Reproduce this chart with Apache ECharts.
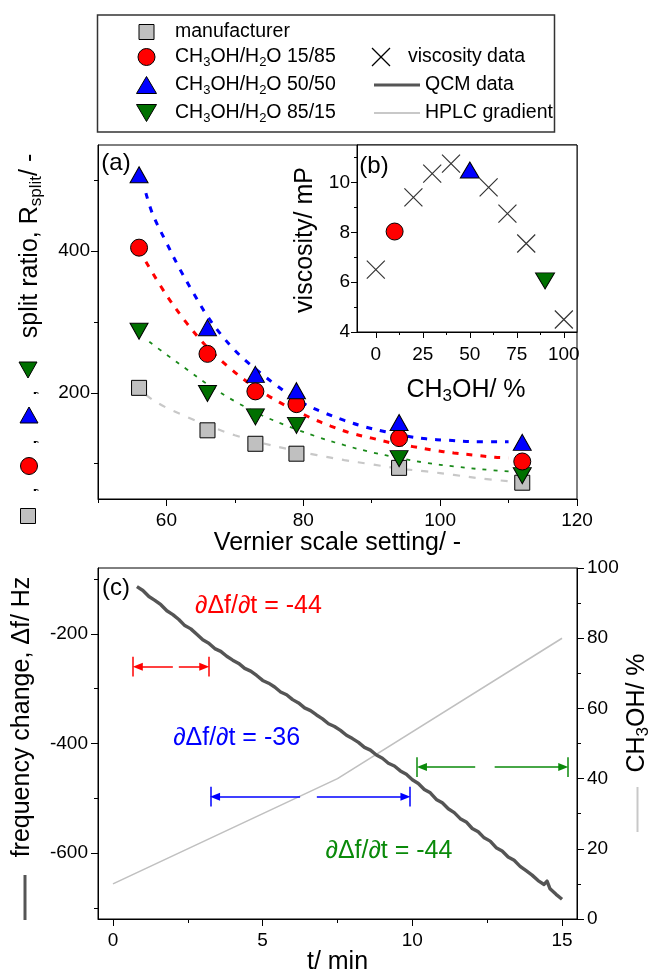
<!DOCTYPE html>
<html>
<head>
<meta charset="utf-8">
<script src="https://cdn.jsdelivr.net/npm/echarts@6.0.0/dist/echarts.min.js"></script>
<style>
html,body{margin:0;padding:0;background:#fff;}
#chart{width:651px;height:974px;}
</style>
</head>
<body>
<div id="chart"></div>
<script>
// ---------------- data ----------------
const vernier = [56, 66, 73, 79, 94, 112];
const splitManufacturer = [207, 147, 128, 114, 94, 73];
const split15 = [405, 255, 202, 184, 136, 103];
const split50 = [508, 292, 226, 203, 158, 130];
const split85 = [287, 199, 166, 154, 107, 83];

const fit50 = [[57,482],[58,452],[60,412],[62,374],[64,340],[66,308],[68,282],[70,260],[72,242],[74,226],[76,211],[78,197],[80,185],[83,172],[86,161],[89,152],[92,145],[95,139],[98,135],[101,133],[105,131],[110,131]];
const fit15 = [[57,385],[60,338],[63,298],[66,264],[69,237],[72,214],[75,195],[78,179],[81,165],[84,153],[87,143],[90,136],[93,129],[96,124],[99,119],[102,115],[105,112],[108,109],[110,108]];
const fit85 = [[57.5,272],[60,254],[63,233],[66,212],[70,188],[74,168],[78,152],[82,138],[86,126],[90,116],[94,108],[98,101],[102,96],[106,92],[110,89]];
const fitManufacturer = [[57,197],[58,190],[60,179],[63,166],[66,154],[70,140],[74,129],[78,120],[82,112],[86,105],[90,99],[94,93],[98,89],[102,84],[106,79],[110,75]];

const methanolPct = [0, 20, 30, 40, 60, 70, 80, 100];
const viscosity = [6.5, 9.4, 10.35, 10.75, 9.8, 8.75, 7.55, 4.5];
const mix15 = [10, 8.03];
const mix50 = [50, 10.5];
const mix85 = [90, 6.05];

const qcmTime = [0.8,1.0,1.2,1.4,1.6,1.8,2.0,2.2,2.4,2.6,2.8,3.0,3.2,3.4,3.6,3.8,4.0,4.2,4.4,4.6,4.8,5.0,5.2,5.4,5.6,5.8,6.0,6.2,6.4,6.6,6.8,7.0,7.2,7.4,7.6,7.8,8.0,8.2,8.4,8.6,8.8,9.0,9.2,9.4,9.6,9.8,10.0,10.2,10.4,10.6,10.8,11.0,11.2,11.4,11.6,11.8,12.0,12.2,12.4,12.6,12.8,13.0,13.2,13.4,13.6,13.8,14.0,14.2,14.4,14.5,14.6,14.8,15.0];
const qcmFreq = [-114,-121,-132,-139,-147,-158,-165,-174,-185,-191,-201,-211,-217,-227,-232,-241,-248,-254,-263,-268,-276,-285,-290,-297,-306,-311,-320,-326,-335,-340,-348,-355,-364,-369,-376,-385,-391,-398,-407,-412,-421,-427,-436,-441,-450,-456,-466,-473,-484,-490,-502,-508,-519,-526,-537,-543,-555,-561,-572,-578,-590,-596,-607,-613,-624,-632,-640,-650,-657,-651,-665,-675,-684];
const gradTime = [0, 7.5, 15];
const gradMeOH = [10, 40, 80];

const slopeTexts = ['∂Δf/∂t = -44', '∂Δf/∂t = -36', '∂Δf/∂t = -44'];
const slopeAt = [[4.86, -150], [4.13, -390], [9.22, -596]];
const spanStart = [0.67, 3.25, 10.16];
const spanEnd = [3.21, 9.93, 15.2];
const spanLevel = [-260, -497, -443];
const spanGapFrom = [2.0, 6.25, 12.1];
const spanGapTo = [2.2, 6.81, 12.75];

const vernierTicks = [60, 80, 100, 120], vernierMinor = [50, 70, 90, 110];
const splitTicks = [200, 400], splitMinor = [100, 300, 500];
const pctTicks = [0, 25, 50, 75, 100], pctMinor = [12.5, 37.5, 62.5, 87.5];
const viscTicks = [4, 6, 8, 10], viscMinor = [5, 7, 9, 11];
const timeTicks = [0, 5, 10, 15], timeMinor = [2.5, 7.5, 12.5];
const freqTicks = [-200, -400, -600], freqMinor = [-100, -300, -500, -700];
const gradTicks = [0, 20, 40, 60, 80, 100], gradMinor = [10, 30, 50, 70, 90];

// ---------------- styling ----------------
const FONT = '"Liberation Sans", Arial, Helvetica, sans-serif';
const RED = '#ff0000', BLUE = '#0000ff', GREEN = '#007000', GREY = '#c0c0c0';
const ANN_GREEN = '#0a8a0a';

function mkAxis(o) {
  return {
    type: 'value', gridIndex: o.grid, min: o.min, max: o.max, position: o.pos,
    axisLine: { show: o.line !== false, onZero: false, lineStyle: { color: '#000', width: 1 } },
    axisTick: { show: true, inside: false, length: o.len, customValues: o.ticks, lineStyle: { color: '#000', width: 1 } },
    axisLabel: o.labels ? { show: true, customValues: o.labels, color: '#000', fontSize: 19, fontFamily: FONT, margin: o.margin } : { show: false },
    splitLine: { show: false }, minorTick: { show: false }, splitArea: { show: false }
  };
}

const xAxes = [
  mkAxis({ grid: 0, min: 50, max: 120, pos: 'bottom', len: 7, ticks: vernierTicks, labels: vernierTicks, margin: 12 }),
  mkAxis({ grid: 0, min: 50, max: 120, pos: 'bottom', len: 4, ticks: vernierMinor, line: false }),
  mkAxis({ grid: 1, min: -10, max: 107, pos: 'bottom', len: 6, ticks: pctTicks, labels: pctTicks, margin: 13 }),
  mkAxis({ grid: 1, min: -10, max: 107, pos: 'bottom', len: 3, ticks: pctMinor, line: false }),
  mkAxis({ grid: 2, min: -0.5, max: 15.5, pos: 'bottom', len: 7, ticks: timeTicks, labels: timeTicks, margin: 12 }),
  mkAxis({ grid: 2, min: -0.5, max: 15.5, pos: 'bottom', len: 4, ticks: timeMinor, line: false })
];
const yAxes = [
  mkAxis({ grid: 0, min: 50, max: 550, pos: 'left', len: 7, ticks: splitTicks, labels: splitTicks, margin: 8 }),
  mkAxis({ grid: 0, min: 50, max: 550, pos: 'left', len: 4, ticks: splitMinor, line: false }),
  mkAxis({ grid: 1, min: 4, max: 11.5, pos: 'left', len: 6, ticks: viscTicks, labels: viscTicks, margin: 7 }),
  mkAxis({ grid: 1, min: 4, max: 11.5, pos: 'left', len: 3, ticks: viscMinor, line: false }),
  mkAxis({ grid: 2, min: -720, max: -80, pos: 'left', len: 7, ticks: freqTicks, labels: freqTicks, margin: 10 }),
  mkAxis({ grid: 2, min: -720, max: -80, pos: 'left', len: 4, ticks: freqMinor, line: false }),
  mkAxis({ grid: 2, min: 0, max: 100, pos: 'right', len: 7, ticks: gradTicks, labels: gradTicks, margin: 10 }),
  mkAxis({ grid: 2, min: 0, max: 100, pos: 'right', len: 4, ticks: gradMinor, line: false })
];

function pairs(xs, ys) { return xs.map((x, i) => [x, ys[i]]); }

function fitSeries(data, color, width, dash) {
  return { type: 'line', xAxisIndex: 0, yAxisIndex: 0, data: data, smooth: 0.35, showSymbol: false, silent: true, z: 2,
    lineStyle: { color: color, width: width, type: dash, cap: 'butt' } };
}
function markSeries(xi, yi, data, symbol, size, color, rotate) {
  return { type: 'scatter', xAxisIndex: xi, yAxisIndex: yi, data: data, symbol: symbol, symbolSize: size, symbolRotate: rotate || 0, z: 4,
    itemStyle: { color: color, borderColor: '#000', borderWidth: 1, opacity: 1 } };
}

// annotation arrows
const annColors = [RED, BLUE, ANN_GREEN];
const markLines = [];
spanStart.forEach((s, i) => {
  const e = spanEnd[i], y = spanLevel[i], c = annColors[i];
  const ls = { color: c, width: 1.5, type: 'solid' };
  markLines.push([{ coord: [spanGapFrom[i], y], symbol: 'none', lineStyle: ls }, { coord: [s + 0.16, y], symbol: 'triangle' }]);
  markLines.push([{ coord: [spanGapTo[i], y], symbol: 'none', lineStyle: ls }, { coord: [e - 0.16, y], symbol: 'triangle' }]);
  markLines.push([{ coord: [s, y - 18], symbol: 'none', lineStyle: ls }, { coord: [s, y + 18], symbol: 'none' }]);
  markLines.push([{ coord: [e, y - 18], symbol: 'none', lineStyle: ls }, { coord: [e, y + 18], symbol: 'none' }]);
});
const markPoints = slopeTexts.map((t, i) => ({
  coord: slopeAt[i], label: { formatter: t, color: annColors[i] }
}));

const series = [
  fitSeries(fitManufacturer, '#c8c8c8', 2.2, [7, 9]),
  fitSeries(fit85, '#1a8a1a', 1.8, [4, 7]),
  fitSeries(fit15, RED, 3, [6, 8]),
  fitSeries(fit50, BLUE, 3, [6, 8]),
  markSeries(0, 0, pairs(vernier, splitManufacturer), 'rect', 15, GREY),
  markSeries(0, 0, pairs(vernier, split85), 'triangle', [18, 16], GREEN, 180),
  markSeries(0, 0, pairs(vernier, split15), 'circle', 17, RED),
  markSeries(0, 0, pairs(vernier, split50), 'triangle', [18, 16], BLUE),
  // inset
  { type: 'scatter', xAxisIndex: 2, yAxisIndex: 2, data: pairs(methanolPct, viscosity), symbol: 'path://M0,0L10,10M10,0L0,10', symbolSize: 18, z: 4,
    itemStyle: { color: 'none', borderColor: '#000', borderWidth: 1.2 } },
  markSeries(2, 2, [mix15], 'circle', 17, RED),
  markSeries(2, 2, [mix50], 'triangle', [19, 16], BLUE),
  markSeries(2, 2, [mix85], 'triangle', [19, 16], GREEN, 180),
  // panel c
  { type: 'line', xAxisIndex: 4, yAxisIndex: 6, data: pairs(gradTime, gradMeOH), showSymbol: false, silent: true, z: 2,
    lineStyle: { color: '#c0c0c0', width: 1.6 } },
  { type: 'line', xAxisIndex: 4, yAxisIndex: 4, data: pairs(qcmTime, qcmFreq), showSymbol: false, silent: true, z: 3,
    lineStyle: { color: '#555555', width: 3.4, join: 'round' },
    markLine: { silent: true, animation: false, symbolSize: [8, 10], label: { show: false }, data: markLines },
    markPoint: { silent: true, animation: false, symbol: 'circle', symbolSize: 1, itemStyle: { color: 'rgba(0,0,0,0)' },
      label: { show: true, position: 'inside', fontSize: 25, fontFamily: FONT }, data: markPoints } }
];

// ---------------- graphic: legend, titles, panel tags ----------------
const G = [];
function txt(x, y, text, size, extra) {
  const e = { type: 'text', x: x, y: y, z: 100, silent: true,
    style: { text: text, fontSize: size, fontFamily: FONT, fill: '#000', align: 'center', verticalAlign: 'middle',
      textAlign: 'center', textVerticalAlign: 'middle', lineHeight: size + 4,
      rich: { s: { fontSize: Math.round(size * 0.66), fontFamily: FONT, lineHeight: Math.round(size * 0.6), verticalAlign: 'bottom', fill: '#000' } } } };
  if (extra) {
    if (extra.rotation) e.rotation = extra.rotation;
    if (extra.align) { e.style.align = extra.align; e.style.textAlign = extra.align; }
  }
  G.push(e);
}
function tri(cx, cy, w, h, down, fill) {
  const pts = down ? [[cx - w / 2, cy - h / 2], [cx + w / 2, cy - h / 2], [cx, cy + h / 2]]
                   : [[cx - w / 2, cy + h / 2], [cx + w / 2, cy + h / 2], [cx, cy - h / 2]];
  G.push({ type: 'polygon', z: 100, silent: true, shape: { points: pts }, style: { fill: fill, stroke: '#000', lineWidth: 1 } });
}
function circ(cx, cy, r, fill) { G.push({ type: 'circle', z: 100, silent: true, shape: { cx: cx, cy: cy, r: r }, style: { fill: fill, stroke: '#000', lineWidth: 1 } }); }
function sq(cx, cy, s, fill) { G.push({ type: 'rect', z: 100, silent: true, shape: { x: cx - s / 2, y: cy - s / 2, width: s, height: s }, style: { fill: fill, stroke: '#000', lineWidth: 1 } }); }
function seg(x1, y1, x2, y2, color, w) { G.push({ type: 'line', z: 100, silent: true, shape: { x1: x1, y1: y1, x2: x2, y2: y2 }, style: { stroke: color, lineWidth: w } }); }

// legend box
G.push({ type: 'rect', z: 99, silent: true, shape: { x: 97.5, y: 15, width: 457, height: 117 }, style: { fill: '#fff', stroke: '#333', lineWidth: 1.5 } });
const LX = 146.5, LT = 175, rows = [32, 57, 85, 113];
sq(LX, rows[0], 15, GREY);
circ(LX, rows[1], 8.5, RED);
tri(LX, rows[2], 20, 17, false, BLUE);
tri(LX, rows[3], 20, 17, true, GREEN);
txt(LT, rows[0], 'manufacturer', 19.5, { align: 'left' });
txt(LT, rows[1], 'CH{s|3}OH/H{s|2}O 15/85', 19.5, { align: 'left' });
txt(LT, rows[2], 'CH{s|3}OH/H{s|2}O 50/50', 19.5, { align: 'left' });
txt(LT, rows[3], 'CH{s|3}OH/H{s|2}O 85/15', 19.5, { align: 'left' });
seg(372, rows[1] - 9, 390, rows[1] + 9, '#000', 1.2);
seg(372, rows[1] + 9, 390, rows[1] - 9, '#000', 1.2);
txt(408, rows[1], 'viscosity data', 19.5, { align: 'left' });
seg(374, rows[2], 420, rows[2], '#555555', 3);
txt(425, rows[2], 'QCM data', 19.5, { align: 'left' });
seg(374, rows[3], 420, rows[3], '#c8c8c8', 2);
txt(425, rows[3], 'HPLC gradient', 19.5, { align: 'left' });

// panel tags
txt(116, 163, '(a)', 24);
txt(374, 166, '(b)', 24);
txt(116, 588, '(c)', 24);

// axis titles
txt(337.5, 543, 'Vernier scale setting/ -', 25);
txt(466, 390, 'CH{s|3}OH/ %', 25);
txt(305, 240, 'viscosity/ mP', 25, { rotation: Math.PI / 2 });
txt(30, 246, 'split ratio, R{s|split}/ -', 25, { rotation: Math.PI / 2 });
tri(28, 370, 18, 16, true, GREEN);
tri(29, 415, 18, 16, false, BLUE);
circ(29, 466, 8.5, RED);
sq(28, 516, 15, GREY);
txt(30, 393, ',', 20, { rotation: Math.PI / 2 });
txt(30, 442, ',', 20, { rotation: Math.PI / 2 });
txt(30, 490, ',', 20, { rotation: Math.PI / 2 });

txt(337.5, 962, 't/ min', 25);
txt(22, 717, 'frequency change, Δf/ Hz', 25, { rotation: Math.PI / 2 });
seg(25, 875, 25, 920, '#555555', 3);
txt(637, 713, 'CH{s|3}OH/ %', 25, { rotation: Math.PI / 2 });
seg(637.5, 787, 637.5, 832, '#c8c8c8', 2);

const option = {
  animation: false,
  backgroundColor: '#ffffff',
  textStyle: { fontFamily: FONT },
  grid: [
    { left: 98, top: 145, width: 479, height: 354, show: true, borderColor: '#000', borderWidth: 1, backgroundColor: 'transparent', containLabel: false, outerBoundsMode: 'none' },
    { left: 357, top: 145, width: 220, height: 187, show: true, borderColor: '#000', borderWidth: 1, backgroundColor: '#fff', containLabel: false, outerBoundsMode: 'none' },
    { left: 98, top: 568, width: 479, height: 351, show: true, borderColor: '#000', borderWidth: 1, backgroundColor: 'transparent', containLabel: false, outerBoundsMode: 'none' }
  ],
  xAxis: xAxes,
  yAxis: yAxes,
  series: series,
  graphic: { elements: G }
};

const chart = echarts.init(document.getElementById('chart'), null, { renderer: 'canvas', width: 651, height: 974 });
chart.setOption(option);
</script>
</body>
</html>
